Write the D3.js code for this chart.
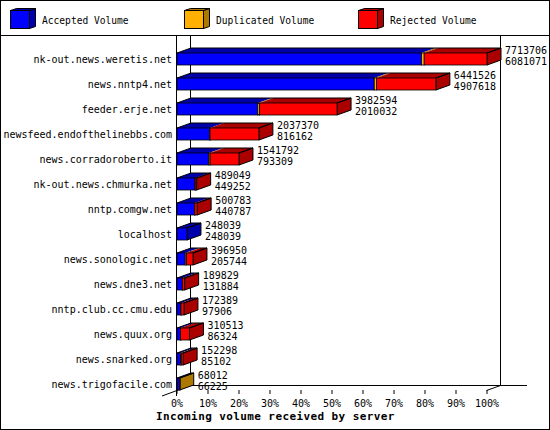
<!DOCTYPE html>
<html>
<head>
<meta charset="utf-8">
<script src="https://cdn.jsdelivr.net/npm/d3@7"></script>
<style>
  body { margin: 0; background: #fff; }
  text { font-family: "DejaVu Sans Mono", monospace; fill: #000; }
</style>
</head>
<body>
<svg width="550" height="430"></svg>
<script>
// incoming volume per server (bytes)
var servers = ["nk-out.news.weretis.net", "news.nntp4.net", "feeder.erje.net",
    "newsfeed.endofthelinebbs.com", "news.corradoroberto.it", "nk-out.news.chmurka.net",
    "nntp.comgw.net", "localhost", "news.sonologic.net", "news.dne3.net",
    "nntp.club.cc.cmu.edu", "news.quux.org", "news.snarked.org", "news.trigofacile.com"];
var totals = [7713706, 6441526, 3982594, 2037370, 1541792, 489049, 500783,
    248039, 396950, 189829, 172389, 310513, 152298, 68012];
var accepted = [6081071, 4907618, 2010032, 816162, 793309, 449252, 440787,
    248039, 205744, 131884, 97906, 86324, 85102, 66225];
var duplicated = [70000, 60000, 45000, 5000, 30000, 2000, 1000,
    0, 30000, 2000, 1000, 1000, 20000, 1787];
var rejected = [1562635, 1473908, 1927562, 1216208, 718483, 37797, 58996,
    0, 161206, 55945, 73483, 223189, 47196, 0];
var legendNames = ["Accepted Volume", "Duplicated Volume", "Rejected Volume"];
var percentTicks = [0, 10, 20, 30, 40, 50, 60, 70, 80, 90, 100];

var colors = ["#0000ff", "#ffb000", "#ff0000"],
    darks = ["#0000aa", "#ad7800", "#aa0000"];

var svg = d3.select("svg"),
    dx = 14, dy = 5,          // 3d depth of the bars
    x0 = 177, x1 = 487;

var maxTotal = d3.max(totals);
var x = d3.scaleLinear().domain([0, 100]).range([x0, x1]);
var y = d3.scalePoint().domain(servers).range([62.5, 62.5 + 25 * (servers.length - 1)]);
function px(v) { return x(v / maxTotal * 100); }

// frame + legend
svg.append("rect").attr("x", 0.5).attr("y", 0.5).attr("width", 549).attr("height", 429)
    .attr("fill", "#fff").attr("stroke", "#000");
svg.append("line").attr("x1", 0).attr("x2", 550).attr("y1", 35.5).attr("y2", 35.5).attr("stroke", "#000");

var leg = svg.selectAll(".leg").data(legendNames).enter().append("g")
    .attr("transform", function(d, i) { return "translate(" + (10 + i * 174) + ",0)"; });
leg.append("path")
    .attr("d", "M19.5,10.5 L25.5,8.5 L25.5,26.5 L19.5,28.5 Z")
    .attr("fill", function(d, i) { return darks[i]; }).attr("stroke", "#000");
leg.append("path")
    .attr("d", "M0.5,10.5 L6.5,8.5 L25.5,8.5 L19.5,10.5 Z")
    .attr("fill", function(d, i) { return darks[i]; }).attr("stroke", "#000");
leg.append("rect").attr("x", 0.5).attr("y", 10.5).attr("width", 19).attr("height", 18)
    .attr("fill", function(d, i) { return colors[i]; }).attr("stroke", "#000");
leg.append("text").attr("x", 32).attr("y", 23.5).attr("font-size", "9.6px")
    .text(function(d) { return d; });

// walls / floor
var g = svg.append("g").attr("stroke", "#000").attr("fill", "none");
g.append("line").attr("x1", x0 - 0.5).attr("x2", x0 - 0.5).attr("y1", 36).attr("y2", 396);
g.append("line").attr("x1", x0 + dx - 0.5).attr("x2", x0 + dx - 0.5).attr("y1", 36).attr("y2", 385.5);
g.append("line").attr("x1", x1 + dx - 0.5).attr("x2", x1 + dx - 0.5).attr("y1", 36).attr("y2", 385.5);
g.append("line").attr("x1", x0 + dx).attr("x2", 527).attr("y1", 385.5).attr("y2", 385.5);
g.append("line").attr("x1", 162).attr("y1", 396).attr("x2", x0 + dx - 0.5).attr("y2", 385.5);
g.append("line").attr("x1", x1 - 0.5).attr("y1", 390.5).attr("x2", x1 + dx - 0.5).attr("y2", 385.5);

svg.append("g")
    .attr("transform", "translate(-0.5,390)")
    .call(d3.axisBottom(x).tickValues(percentTicks).tickSize(4).tickPadding(6)
        .tickFormat(function(d) { return d + "%"; }))
    .call(function(a) {
        a.select(".domain").remove();
        a.selectAll("text").attr("font-family", "DejaVu Sans Mono").attr("font-size", "10px");
        a.selectAll("line").attr("stroke", "#000");
    });

// bars
servers.forEach(function(s, i) {
    var segs = [accepted[i], duplicated[i], rejected[i]];
    var top = y(s) - 9.5, h = 12, start = 0, last = 0;
    var bg = svg.append("g");
    var parts = [];
    segs.forEach(function(v, k) {
        if (v <= 0) return;
        parts.push({ a: px(start), b: px(start + v), k: k });
        start += v;
        last = k;
    });
    var L = x0, R = px(start);
    parts.forEach(function(p) {
        bg.append("path")
            .attr("d", "M" + p.a + "," + top + " L" + (p.a + dx) + "," + (top - dy) +
                " L" + (p.b + dx) + "," + (top - dy) + " L" + p.b + "," + top + " Z")
            .attr("fill", darks[p.k]);
    });
    bg.append("path")
        .attr("d", "M" + R + "," + top + " L" + (R + dx) + "," + (top - dy) + " L" + (R + dx) + "," +
            (top + h - dy) + " L" + R + "," + (top + h) + " Z")
        .attr("fill", darks[last]).attr("stroke", "#000");
    bg.append("path")
        .attr("d", "M" + L + "," + top + " L" + (L + dx) + "," + (top - dy) + " L" + (R + dx) + "," +
            (top - dy) + " L" + R + "," + top)
        .attr("fill", "none").attr("stroke", "#000");
    parts.forEach(function(p) {
        bg.append("rect").attr("x", p.a).attr("y", top).attr("width", Math.max(p.b - p.a, 0.6)).attr("height", h)
            .attr("fill", colors[p.k]).attr("stroke", "#000").attr("stroke-width", 0.8);
    });

    svg.append("text").attr("x", R + 18).attr("y", y(s) - 8.3).attr("font-size", "10px").text(totals[i]);
    svg.append("text").attr("x", R + 18).attr("y", y(s) + 2.7).attr("font-size", "10px").text(accepted[i]);
});

// server names
svg.selectAll(".name").data(servers).enter().append("text")
    .attr("x", 172).attr("y", function(d) { return y(d); })
    .attr("text-anchor", "end").attr("font-size", "10px")
    .text(function(d) { return d; });

svg.append("text").attr("x", 156).attr("y", 420)
    .attr("font-size", "11px").attr("font-weight", "bold").attr("letter-spacing", "0.4px")
    .text("Incoming volume received by server");
</script>
</body>
</html>
